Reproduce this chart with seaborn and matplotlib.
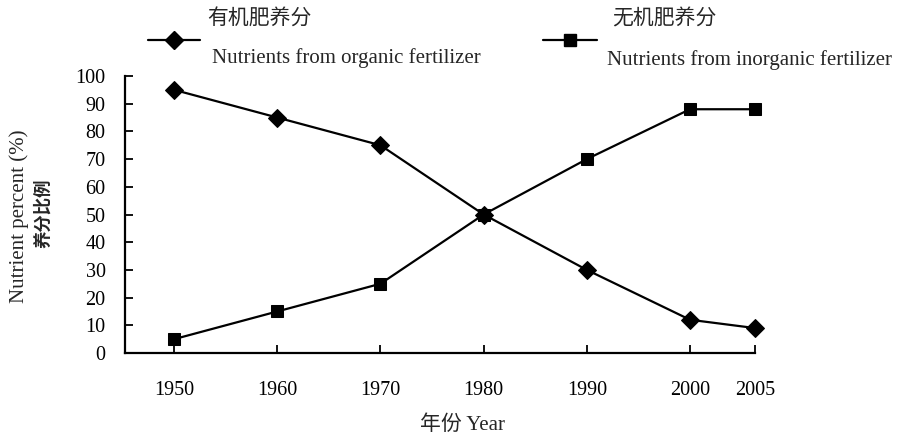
import matplotlib
matplotlib.use("Agg")
import matplotlib.pyplot as plt
from matplotlib.lines import Line2D
import seaborn as sns
import pandas as pd

years = ["1950", "1960", "1970", "1980", "1990", "2000", "2005"]
x_pos = [0, 1, 2, 3, 4, 5, 5.63]
organic = [95, 85, 75, 50, 30, 12, 9]
inorganic = [5, 15, 25, 50, 70, 88, 88]
y_ticks = [0, 10, 20, 30, 40, 50, 60, 70, 80, 90, 100]

df = pd.DataFrame({
    "x": x_pos * 2,
    "value": organic + inorganic,
    "series": ["organic"] * len(organic) + ["inorganic"] * len(inorganic),
})

sns.set_style("ticks")
FAM = ["Liberation Serif", "Noto Sans CJK SC"]
plt.rcParams["font.family"] = FAM

fig = plt.figure(figsize=(8.97, 4.34), dpi=100)
ax = fig.add_axes([125 / 897, 1 - 353 / 434, 630 / 897, 277 / 434])

sns.lineplot(data=df, x="x", y="value", style="series", hue="series",
             palette={"organic": "black", "inorganic": "black"},
             markers={"organic": "D", "inorganic": "s"},
             dashes=False, markersize=8.5, linewidth=1.6, ax=ax, legend=False,
             markeredgecolor="black")
for ln in ax.lines:
    ln.set_clip_on(False)
    if ln.get_marker() == "D":
        ln.set_markersize(9.5)

ax.set_xlim(-0.476, 5.63)
ax.set_ylim(0, 100)
ax.set_xticks(x_pos)
ax.set_xticklabels(years)
ax.set_yticks(y_ticks)
ax.tick_params(direction="in", length=6, width=1.3, labelsize=14.5, colors="black")
ax.tick_params(axis="x", pad=20)
ax.tick_params(axis="y", pad=14)
for s in ["top", "right"]:
    ax.spines[s].set_visible(False)
for s in ["left", "bottom"]:
    ax.spines[s].set_linewidth(1.6)
    ax.spines[s].set_color("black")
ax.set_xlabel("")
ax.set_ylabel("")

# axis titles
fig.text(462 / 897, 1 - 425 / 434, "年份 Year", ha="center", va="center", fontsize=15, family=FAM)
fig.text(19 / 897, 1 - 216 / 434, "Nutrient percent (%)", rotation=90, ha="center", va="center",
         fontsize=15, family=FAM)
fig.text(43 / 897, 1 - 213 / 434, "养分比例", rotation=90, ha="center", va="center",
         fontsize=12.5, family=["Noto Sans CJK SC"], fontweight="bold")

# legend
def legend_entry(x0, x1, y, marker, ms):
    fig.add_artist(Line2D([x0 / 897, (x0 + x1) / 2 / 897, x1 / 897], [1 - y / 434] * 3,
                          transform=fig.transFigure, color="black", lw=1.6,
                          marker=marker, markersize=ms, markevery=[1]))

legend_entry(148, 200, 40, "D", 9.5)
fig.text(207 / 897, 1 - 19 / 434, "有机肥养分", ha="left", va="center", fontsize=15,
         family=["Noto Sans CJK SC"])
fig.text(212 / 897, 1 - 58 / 434, "Nutrients from organic fertilizer", ha="left", va="center",
         fontsize=15, family=FAM)
legend_entry(543, 597, 40, "s", 8.5)
fig.text(612 / 897, 1 - 19 / 434, "无机肥养分", ha="left", va="center", fontsize=15,
         family=["Noto Sans CJK SC"])
fig.text(607 / 897, 1 - 60 / 434, "Nutrients from inorganic fertilizer", ha="left", va="center",
         fontsize=15, family=FAM)

fig.savefig("out.png", dpi=100)
